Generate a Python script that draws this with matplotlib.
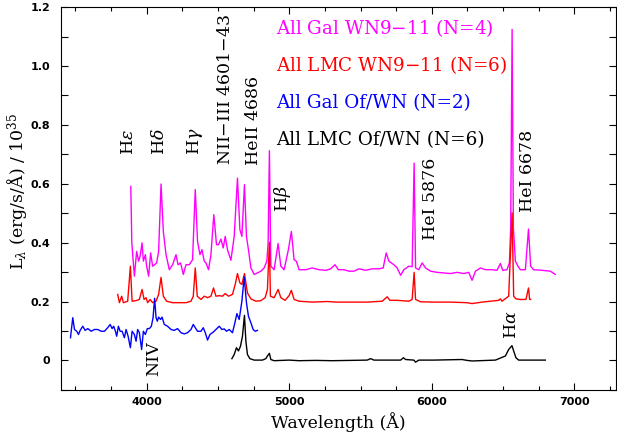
import matplotlib
matplotlib.use("Agg")
import matplotlib.pyplot as plt
from matplotlib.ticker import MultipleLocator

plt.rcParams['font.family'] = ['DejaVu Serif']
plt.rcParams['mathtext.fontset'] = 'dejavuserif'

# All Gal WN9-11 (N=4)
gal_wn_wave = [3889, 3896, 3914, 3930, 3944, 3954, 3968, 3977, 3991, 4000, 4014, 4028, 4042,
               4056, 4070, 4084, 4101, 4117, 4136, 4159, 4182, 4206, 4220, 4238, 4257, 4276,
               4299, 4322, 4341, 4357, 4374, 4388, 4404, 4416, 4434, 4451, 4471, 4490, 4504,
               4521, 4537, 4551, 4567, 4591, 4614, 4637, 4654, 4668, 4686, 4700, 4714, 4731,
               4754, 4777, 4801, 4824, 4843, 4852, 4861, 4871, 4894, 4922, 4941, 4964, 4994,
               5015, 5034, 5050, 5069, 5116, 5162, 5209, 5256, 5291, 5321, 5344, 5384, 5419,
               5454, 5489, 5536, 5582, 5629, 5659, 5680, 5699, 5734, 5757, 5781, 5804, 5839,
               5862, 5876, 5886, 5909, 5932, 5956, 5991, 6037, 6084, 6131, 6177, 6224, 6259,
               6282, 6306, 6341, 6376, 6422, 6457, 6481, 6497, 6527, 6544, 6553, 6563, 6572,
               6586, 6604, 6621, 6656, 6678, 6693, 6714, 6772, 6831, 6866]
gal_wn_flux = [0.591, 0.399, 0.286, 0.370, 0.337, 0.354, 0.399, 0.337, 0.359, 0.320, 0.286, 0.365, 0.320,
               0.325, 0.331, 0.370, 0.599, 0.438, 0.359, 0.308, 0.325, 0.359, 0.325, 0.331, 0.292, 0.325,
               0.325, 0.342, 0.580, 0.404, 0.359, 0.376, 0.337, 0.331, 0.308, 0.359, 0.495, 0.393, 0.393,
               0.412, 0.382, 0.421, 0.376, 0.340, 0.421, 0.619, 0.444, 0.421, 0.597, 0.421, 0.376, 0.314,
               0.292, 0.297, 0.303, 0.314, 0.337, 0.400, 0.712, 0.320, 0.308, 0.397, 0.320, 0.308, 0.376,
               0.438, 0.342, 0.337, 0.308, 0.308, 0.314, 0.308, 0.306, 0.311, 0.325, 0.308, 0.308, 0.303,
               0.303, 0.311, 0.306, 0.311, 0.311, 0.314, 0.365, 0.337, 0.325, 0.314, 0.289, 0.308, 0.320,
               0.318, 0.670, 0.314, 0.308, 0.331, 0.314, 0.303, 0.299, 0.297, 0.295, 0.299, 0.295, 0.299,
               0.272, 0.303, 0.314, 0.308, 0.308, 0.306, 0.329, 0.306, 0.308, 0.331, 0.450, 1.124, 0.450,
               0.337, 0.320, 0.308, 0.308, 0.446, 0.320, 0.308, 0.306, 0.303, 0.292]

# All LMC WN9-11 (N=6)
lmc_wn_wave = [3797, 3809, 3825, 3837, 3867, 3886, 3898, 3926, 3949, 3968, 3982, 3996, 4007,
               4024, 4042, 4066, 4084, 4101, 4117, 4140, 4182, 4229, 4276, 4311, 4327, 4341,
               4355, 4381, 4404, 4427, 4451, 4469, 4486, 4509, 4532, 4551, 4574, 4602, 4621,
               4637, 4654, 4668, 4686, 4707, 4731, 4766, 4801, 4831, 4847, 4861, 4868, 4894,
               4922, 4941, 4971, 4999, 5015, 5034, 5069, 5162, 5267, 5326, 5431, 5547, 5652,
               5687, 5706, 5757, 5839, 5862, 5876, 5886, 5921, 6014, 6131, 6247, 6282, 6352,
               6469, 6481, 6492, 6539, 6563, 6574, 6590, 6621, 6660, 6678, 6686, 6693]
lmc_wn_flux = [0.224, 0.196, 0.218, 0.196, 0.201, 0.320, 0.201, 0.203, 0.207, 0.241, 0.207, 0.213, 0.196,
               0.207, 0.196, 0.201, 0.224, 0.282, 0.218, 0.201, 0.196, 0.196, 0.196, 0.201, 0.218, 0.314,
               0.218, 0.207, 0.218, 0.213, 0.218, 0.246, 0.218, 0.220, 0.218, 0.227, 0.218, 0.224, 0.258,
               0.295, 0.263, 0.258, 0.295, 0.229, 0.209, 0.201, 0.203, 0.213, 0.241, 0.401, 0.218, 0.213,
               0.241, 0.213, 0.204, 0.220, 0.238, 0.207, 0.201, 0.198, 0.200, 0.198, 0.198, 0.198, 0.201,
               0.216, 0.204, 0.204, 0.201, 0.207, 0.299, 0.207, 0.199, 0.198, 0.198, 0.196, 0.193, 0.198,
               0.204, 0.209, 0.201, 0.218, 0.501, 0.218, 0.209, 0.207, 0.207, 0.246, 0.207, 0.207]

# All Gal Of/WN (N=2)
gal_ofwn_wave = [3466, 3471, 3482, 3494, 3510, 3522, 3534, 3552, 3569, 3587, 3611, 3634, 3657,
                 3681, 3704, 3727, 3744, 3758, 3769, 3781, 3790, 3802, 3814, 3828, 3844, 3856,
                 3870, 3886, 3898, 3914, 3926, 3937, 3949, 3965, 3977, 3991, 4005, 4019, 4033,
                 4045, 4056, 4066, 4075, 4084, 4098, 4108, 4124, 4147, 4171, 4194, 4217, 4241,
                 4264, 4287, 4311, 4327, 4341, 4357, 4381, 4397, 4411, 4427, 4444, 4467, 4490,
                 4509, 4528, 4544, 4560, 4579, 4602, 4619, 4633, 4649, 4668, 4684, 4700, 4714,
                 4731, 4747, 4761, 4777]
gal_ofwn_flux = [0.077, 0.099, 0.145, 0.105, 0.099, 0.088, 0.102, 0.116, 0.102, 0.108, 0.099, 0.105, 0.105,
                 0.099, 0.099, 0.111, 0.122, 0.108, 0.116, 0.099, 0.082, 0.116, 0.099, 0.099, 0.077, 0.105,
                 0.082, 0.043, 0.099, 0.088, 0.065, 0.105, 0.094, 0.037, 0.099, 0.088, 0.108, 0.108, 0.116,
                 0.145, 0.211, 0.145, 0.133, 0.147, 0.139, 0.147, 0.122, 0.116, 0.105, 0.102, 0.108, 0.094,
                 0.090, 0.094, 0.105, 0.122, 0.111, 0.099, 0.099, 0.111, 0.094, 0.069, 0.088, 0.096, 0.107,
                 0.116, 0.105, 0.107, 0.099, 0.105, 0.094, 0.128, 0.159, 0.139, 0.201, 0.284, 0.196, 0.150,
                 0.128, 0.105, 0.099, 0.102]

# All LMC Of/WN (N=6)
lmc_ofwn_wave = [4598, 4614, 4630, 4644, 4658, 4672, 4686, 4696, 4707, 4724, 4754, 4812, 4836,
                 4847, 4861, 4871, 4894, 4999, 5069, 5186, 5302, 5547, 5571, 5594, 5781, 5801,
                 5816, 5874, 5886, 5909, 6014, 6212, 6247, 6282, 6446, 6516, 6539, 6562, 6574,
                 6590, 6609, 6679, 6726, 6796]
lmc_ofwn_flux = [0.006, 0.020, 0.043, 0.032, 0.048, 0.082, 0.153, 0.065, 0.020, 0.006, 0.001, 0.001, 0.006,
                 0.015, 0.024, 0.003, -0.001, 0.001, -0.001, 0.000, -0.001, 0.001, 0.006, 0.001, 0.001, 0.009,
                 0.003, 0.001, -0.006, 0.001, 0.001, 0.003, 0.000, -0.002, 0.001, 0.015, 0.037, 0.050, 0.032,
                 0.009, 0.001, 0.001, 0.001, 0.001]

legend_text = ['All Gal WN9$-$11 (N=4)', 'All LMC WN9$-$11 (N=6)',
               'All Gal Of/WN (N=2)', 'All LMC Of/WN (N=6)']
legend_colors = ['#ff00ff', '#ff0000', '#0000ff', 'black']

fig = plt.figure(figsize=(6.17, 4.41), dpi=100)
ax = fig.add_axes([0.099, 0.116, 0.899, 0.868])

ax.plot(gal_wn_wave, gal_wn_flux, color='#ff00ff', lw=1.0)
ax.plot(lmc_wn_wave, lmc_wn_flux, color='#ff0000', lw=1.0)
ax.plot(gal_ofwn_wave, gal_ofwn_flux, color='#0000ff', lw=1.0)
ax.plot(lmc_ofwn_wave, lmc_ofwn_flux, color='black', lw=1.0)

ax.set_xlim(3400, 7290)
ax.set_ylim(-0.1, 1.2)

# line identifications
fs = 12.5
ax.text(3872, 0.698, r'H$\varepsilon$', rotation=90, ha='center', va='bottom', fontsize=fs)
ax.text(4089, 0.698, r'H$\delta$', rotation=90, ha='center', va='bottom', fontsize=fs)
ax.text(4341, 0.698, r'H$\gamma$', rotation=90, ha='center', va='bottom', fontsize=fs)
ax.text(4551, 0.664, 'NII$-$III 4601$-$43', rotation=90, ha='center', va='bottom', fontsize=fs)
ax.text(4747, 0.664, 'HeII 4686', rotation=90, ha='center', va='bottom', fontsize=fs)
ax.text(4950, 0.505, r'H$\beta$', rotation=90, ha='center', va='bottom', fontsize=fs)
ax.text(5993, 0.410, 'HeI 5876', rotation=90, ha='center', va='bottom', fontsize=fs)
ax.text(6672, 0.505, 'HeI 6678', rotation=90, ha='center', va='bottom', fontsize=fs)
ax.text(6560, 0.071, r'H$\alpha$', rotation=90, ha='center', va='bottom', fontsize=fs)
ax.text(4049, 0.005, 'NIV', rotation=90, ha='center', va='center', fontsize=fs)

for i, (t, c) in enumerate(zip(legend_text, legend_colors)):
    ax.text(4908, 1.128 - i * 0.1263, t, color=c, ha='left', va='center', fontsize=13.2)

ax.xaxis.set_major_locator(MultipleLocator(1000))
ax.xaxis.set_minor_locator(MultipleLocator(250))
ax.yaxis.set_major_locator(MultipleLocator(0.2))
ax.yaxis.set_minor_locator(MultipleLocator(0.1))
ax.tick_params(which='both', direction='in', top=True, right=True, width=0.8)
ax.tick_params(which='major', length=5)
ax.tick_params(axis='x', which='minor', length=3)
ax.tick_params(axis='y', which='minor', length=5)
ax.tick_params(axis='x', pad=5)
ax.tick_params(axis='y', pad=8)
ax.set_yticklabels(['', '0', '0.2', '0.4', '0.6', '0.8', '1.0', '1.2'][:len(ax.get_yticks())])
for lab in ax.get_xticklabels() + ax.get_yticklabels():
    lab.set_fontfamily('DejaVu Sans')
    lab.set_fontweight('bold')
    lab.set_fontsize(8)

ax.set_xlabel('Wavelength (Å)', fontsize=fs)
ax.xaxis.set_label_coords(0.5, -0.084)
ax.xaxis.label.set_va('center')
ax.set_ylabel(r'L$_\lambda$ (erg/s/Å) / 10$^{35}$', fontsize=fs)
ax.yaxis.set_label_coords(-0.0775, 0.52)
ax.yaxis.label.set_va('center')

fig.savefig('out.png', dpi=100)
